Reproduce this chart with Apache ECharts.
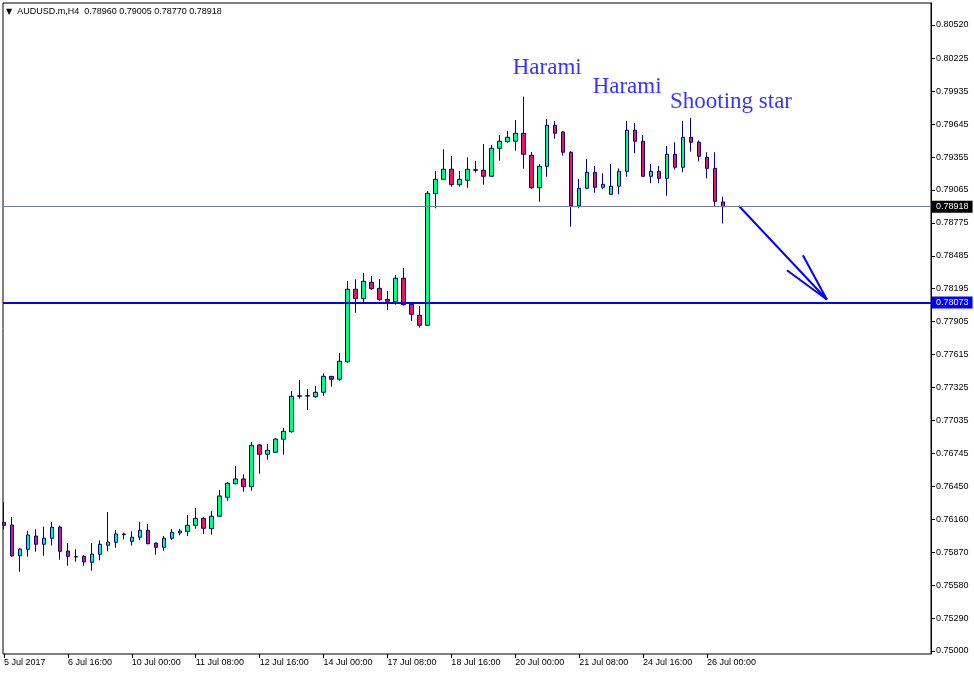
<!DOCTYPE html>
<html><head><meta charset="utf-8">
<script src="https://cdn.jsdelivr.net/npm/echarts@6/dist/echarts.min.js"></script>
<style>html,body{margin:0;padding:0;background:#fff}#c{width:974px;height:675px}</style>
</head><body><div id="c"></div>
<script>
const symbolName = 'AUDUSD.m,H4';
const tickLabels = ['5 Jul 2017','6 Jul 16:00','10 Jul 00:00','11 Jul 08:00','12 Jul 16:00','14 Jul 00:00','17 Jul 08:00','18 Jul 16:00','20 Jul 00:00','21 Jul 08:00','24 Jul 16:00','26 Jul 00:00'];
const yTicks = [0.80520,0.80225,0.79935,0.79645,0.79355,0.79065,0.78775,0.78485,0.78195,0.77905,0.77615,0.77325,0.77035,0.76745,0.76450,0.76160,0.75870,0.75580,0.75290,0.75000];
const opens = [0.76135,0.76111,0.75840,0.75897,0.76014,0.75941,0.75994,0.76093,0.75882,0.75832,
0.75835,0.75782,0.75853,0.75932,0.75959,0.76026,0.75967,0.76003,0.76064,0.75952,
0.75914,0.75994,0.76041,0.76055,0.76108,0.76170,0.76078,0.76188,0.76355,0.76475,
0.76517,0.76449,0.76817,0.76735,0.76752,0.76867,0.76934,0.77246,0.77251,0.77242,
0.77281,0.77422,0.77396,0.77551,0.78190,0.78107,0.78251,0.78198,0.78101,0.78080,
0.78287,0.78057,0.77960,0.77872,0.79033,0.79159,0.79248,0.79112,0.79151,0.79244,
0.79239,0.79186,0.79433,0.79491,0.79495,0.79565,0.79371,0.79085,0.79274,0.79636,
0.79577,0.79398,0.78927,0.79080,0.79221,0.79089,0.79027,0.79098,0.79230,0.79592,
0.79495,0.79186,0.79230,0.79168,0.79380,0.79265,0.79530,0.79486,0.79353,0.79256,
0.78960];
const highs = [0.76314,0.76182,0.75906,0.76061,0.76073,0.76096,0.76138,0.76105,0.75952,0.75897,
0.75844,0.75952,0.75976,0.76226,0.76067,0.76043,0.76056,0.76138,0.76120,0.75955,
0.76014,0.76076,0.76076,0.76199,0.76261,0.76179,0.76235,0.76420,0.76490,0.76631,
0.76558,0.76843,0.76825,0.76825,0.76876,0.76966,0.77293,0.77390,0.77310,0.77337,
0.77449,0.77425,0.77628,0.78263,0.78278,0.78333,0.78307,0.78280,0.78175,0.78316,
0.78377,0.78060,0.78042,0.79056,0.79233,0.79424,0.79365,0.79233,0.79353,0.79321,
0.79471,0.79462,0.79550,0.79585,0.79682,0.79888,0.79400,0.79292,0.79691,0.79674,
0.79585,0.79409,0.79162,0.79339,0.79277,0.79212,0.79294,0.79256,0.79674,0.79656,
0.79550,0.79294,0.79277,0.79453,0.79486,0.79674,0.79700,0.79503,0.79398,0.79398,
0.79005];
const lows = [0.76073,0.75832,0.75699,0.75832,0.75876,0.75840,0.75929,0.75805,0.75752,0.75787,
0.75752,0.75708,0.75800,0.75879,0.75911,0.75985,0.75929,0.75976,0.75941,0.75849,
0.75884,0.75979,0.76020,0.76014,0.76078,0.76032,0.76026,0.76185,0.76325,0.76470,
0.76405,0.76414,0.76563,0.76687,0.76749,0.76731,0.76925,0.77225,0.77125,0.77233,
0.77249,0.77331,0.77384,0.77542,0.77983,0.78071,0.78183,0.78089,0.78007,0.78054,
0.78045,0.77910,0.77851,0.77866,0.78904,0.79156,0.79094,0.79094,0.79085,0.79218,
0.79112,0.79183,0.79324,0.79482,0.79412,0.79253,0.79077,0.78962,0.79182,0.79518,
0.79368,0.78742,0.78904,0.79071,0.79041,0.79071,0.79024,0.79027,0.79182,0.79389,
0.79183,0.79124,0.79124,0.79015,0.79245,0.79221,0.79403,0.79318,0.79168,0.78921,
0.78770];
const closes = [0.76108,0.75838,0.75899,0.76023,0.75941,0.75994,0.76091,0.75879,0.75835,0.75829,
0.75785,0.75855,0.75941,0.75961,0.76032,0.76032,0.76003,0.76064,0.75946,0.75914,
0.75994,0.76047,0.76058,0.76108,0.76170,0.76082,0.76188,0.76367,0.76479,0.76517,
0.76449,0.76814,0.76735,0.76770,0.76869,0.76937,0.77246,0.77251,0.77248,0.77281,
0.77422,0.77396,0.77555,0.78190,0.78107,0.78260,0.78195,0.78098,0.78084,0.78287,
0.78054,0.77969,0.77872,0.79036,0.79159,0.79248,0.79112,0.79159,0.79248,0.79239,
0.79186,0.79433,0.79495,0.79530,0.79565,0.79380,0.79085,0.79274,0.79636,0.79565,
0.79398,0.78927,0.79080,0.79221,0.79089,0.79115,0.79098,0.79230,0.79592,0.79495,
0.79186,0.79230,0.79168,0.79380,0.79265,0.79530,0.79486,0.79362,0.79256,0.78965,
0.78918];
const supportLevel = 0.78073;
const annTexts = ['Harami','Harami','Shooting star'];
const annIdx = [68, 78, 91];
const annPrice = [0.80141, 0.79973, 0.79841];
const arrowSegments = [
  [[92, 0.78924],[103, 0.78100]],
  [[98, 0.78357],[103, 0.78100]],
  [[100, 0.78489],[103, 0.78100]]
];

const N_SLOTS = 117;
const xCats = [];
for (let i = 0; i < N_SLOTS; i++) {
  xCats.push(i % 8 === 0 && tickLabels[i / 8] !== undefined ? tickLabels[i / 8] : '');
}
const candleData = opens.map((o, i) => [o, closes[i], lows[i], highs[i]]);
const yMin = 0.749735, yMax = 0.80714;
const font = '"Liberation Sans", Arial, sans-serif';
const last = opens.length - 1;
const f5 = v => Number(v).toFixed(5);

const chart = echarts.init(document.getElementById('c'), null, {renderer: 'canvas'});
const option = {
  animation: false,
  backgroundColor: '#ffffff',
  title: {
    text: '{t|▼}  ' + symbolName + '  ' + [opens[last], highs[last], lows[last], closes[last]].map(f5).join(' '),
    left: 1, top: 2,
    textStyle: {fontFamily: font, fontSize: 9, fontWeight: 'normal', color: '#000',
      rich: {t: {fontFamily: '"DejaVu Sans"', fontSize: 8, color: '#000'}}}
  },
  grid: [
    {left: 3, top: 3, right: 43, bottom: 21, show: true, borderColor: '#000', borderWidth: 1, backgroundColor: 'transparent'},
    {left: -1.3, top: 3, width: 936, bottom: 21}
  ],
  xAxis: [
    {gridIndex: 0, type: 'value', min: 1, max: 2, show: false, axisLine: {onZero: false}},
    {gridIndex: 1, type: 'category', data: xCats, boundaryGap: true,
      axisLine: {show: false, onZero: false},
      axisTick: {show: true, alignWithLabel: true, interval: (i, v) => v !== '', length: 4, lineStyle: {color: '#000'}},
      axisLabel: {interval: (i, v) => v !== '', align: 'left', margin: 4, fontFamily: font, fontSize: 9, color: '#000'},
      splitLine: {show: false}}
  ],
  yAxis: [
    {gridIndex: 0, type: 'value', position: 'right', min: yMin, max: yMax,
      axisLine: {show: true, onZero: false, lineStyle: {color: '#000'}},
      axisTick: {show: true, customValues: yTicks, length: 4, lineStyle: {color: '#000'}},
      axisLabel: {customValues: yTicks, formatter: v => f5(v), margin: 5, fontFamily: font, fontSize: 9, color: '#000'},
      splitLine: {show: false}},
    {gridIndex: 1, type: 'value', min: yMin, max: yMax, show: false, axisLine: {onZero: false}}
  ],
  series: [
    {
      type: 'candlestick', xAxisIndex: 1, yAxisIndex: 1, data: candleData,
      barWidth: 4, z: 2,
      itemStyle: {color: '#00FF7F', color0: '#E8175D', borderColor: '#000080', borderColor0: '#000080', borderColorDoji: '#000080', borderWidth: 1}
    },
    {
      type: 'line', xAxisIndex: 0, yAxisIndex: 0, data: [], symbol: 'none', z: 3, silent: true,
      markLine: {
        silent: true, symbol: ['none', 'none'], animation: false, precision: 5,
        data: [
          {yAxis: closes[last], lineStyle: {color: '#708090', width: 1, type: 'solid'},
            label: {show: true, position: 'end', distance: 1, formatter: p => f5(p.value), color: '#fff', backgroundColor: '#000', padding: [2, 4, 1, 4], fontFamily: font, fontSize: 9}},
          {yAxis: supportLevel, lineStyle: {color: '#0000FF', width: 2, type: 'solid'},
            label: {show: true, position: 'end', distance: 1, formatter: p => f5(p.value), color: '#fff', backgroundColor: '#0000FF', padding: [2, 4, 1, 4], fontFamily: font, fontSize: 9}}
        ]
      }
    },
    {
      type: 'lines', coordinateSystem: 'cartesian2d', xAxisIndex: 1, yAxisIndex: 1, z: 4, silent: true,
      lineStyle: {color: '#0000FF', width: 2, opacity: 1},
      data: arrowSegments.map(s => ({coords: s}))
    },
    {
      type: 'scatter', xAxisIndex: 1, yAxisIndex: 1, z: 5, silent: true, symbolSize: 0,
      data: annTexts.map((t, i) => ({name: t, value: [annIdx[i], annPrice[i]]})),
      label: {show: true, position: 'inside', formatter: p => p.name, fontFamily: '"Liberation Serif", "Times New Roman", serif', fontSize: 23, color: '#0000FF'}
    }
  ]
};
chart.setOption(option);
</script>
</body></html>
